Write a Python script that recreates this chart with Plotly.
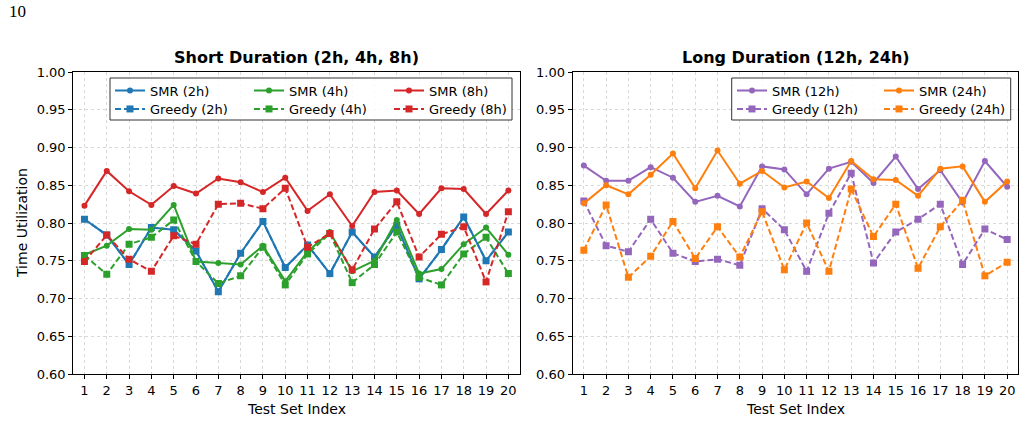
import plotly.graph_objects as go

test_idx = list(range(1, 21))

smr_2h = [0.805, 0.784, 0.745, 0.794, 0.791, 0.763, 0.709, 0.760, 0.802, 0.741,
          0.771, 0.733, 0.788, 0.755, 0.797, 0.726, 0.765, 0.808, 0.750, 0.788]
greedy_2h = [0.805, 0.784, 0.745, 0.794, 0.791, 0.763, 0.709, 0.760, 0.802, 0.741,
             0.771, 0.733, 0.788, 0.755, 0.797, 0.726, 0.765, 0.808, 0.750, 0.788]
smr_4h = [0.758, 0.770, 0.792, 0.791, 0.824, 0.749, 0.747, 0.745, 0.770, 0.723,
          0.762, 0.788, 0.736, 0.750, 0.804, 0.733, 0.739, 0.772, 0.794, 0.758]
greedy_4h = [0.757, 0.732, 0.772, 0.781, 0.804, 0.749, 0.720, 0.730, 0.768, 0.718,
             0.759, 0.786, 0.721, 0.745, 0.788, 0.728, 0.718, 0.759, 0.781, 0.733]
smr_8h = [0.823, 0.869, 0.842, 0.824, 0.849, 0.839, 0.859, 0.854, 0.841, 0.860,
          0.816, 0.838, 0.796, 0.841, 0.843, 0.812, 0.846, 0.845, 0.812, 0.843]
greedy_8h = [0.749, 0.784, 0.752, 0.736, 0.783, 0.772, 0.825, 0.826, 0.819, 0.846,
             0.768, 0.786, 0.738, 0.792, 0.828, 0.755, 0.785, 0.795, 0.722, 0.815]

smr_12h = [0.876, 0.856, 0.856, 0.874, 0.860, 0.828, 0.836, 0.822, 0.875, 0.871,
           0.838, 0.872, 0.881, 0.853, 0.888, 0.845, 0.870, 0.827, 0.882, 0.848]
greedy_12h = [0.829, 0.770, 0.762, 0.805, 0.760, 0.749, 0.752, 0.744, 0.819, 0.791,
              0.736, 0.813, 0.866, 0.747, 0.788, 0.805, 0.825, 0.745, 0.792, 0.778]
smr_24h = [0.826, 0.850, 0.838, 0.864, 0.892, 0.846, 0.896, 0.852, 0.869, 0.847,
           0.855, 0.833, 0.882, 0.858, 0.857, 0.836, 0.872, 0.875, 0.828, 0.855]
greedy_24h = [0.764, 0.824, 0.728, 0.756, 0.802, 0.753, 0.795, 0.755, 0.815, 0.738,
              0.800, 0.736, 0.845, 0.782, 0.825, 0.740, 0.795, 0.830, 0.730, 0.748]

y_ticks = [0.60, 0.65, 0.70, 0.75, 0.80, 0.85, 0.90, 0.95, 1.00]

BLUE, ORANGE, GREEN, RED, PURPLE = "#1f77b4", "#ff7f0e", "#2ca02c", "#d62728", "#9467bd"
FONT = "DejaVu Sans"

fig = go.Figure()

def add(y, name, color, dashed, xa, ya, legend):
    fig.add_trace(go.Scatter(
        x=test_idx, y=y, name=name, mode="lines+markers",
        line=dict(color=color, width=2, dash="6px,3px" if dashed else "solid"),
        marker=dict(symbol="square" if dashed else "circle", size=7 if dashed else 6, color=color),
        xaxis=xa, yaxis=ya, legend=legend,
    ))

add(smr_2h, "SMR (2h)", BLUE, False, "x", "y", "legend")
add(greedy_2h, "Greedy (2h)", BLUE, True, "x", "y", "legend2")
add(smr_4h, "SMR (4h)", GREEN, False, "x", "y", "legend3")
add(greedy_4h, "Greedy (4h)", GREEN, True, "x", "y", "legend4")
add(smr_8h, "SMR (8h)", RED, False, "x", "y", "legend5")
add(greedy_8h, "Greedy (8h)", RED, True, "x", "y", "legend6")

add(smr_12h, "SMR (12h)", PURPLE, False, "x2", "y2", "legend7")
add(greedy_12h, "Greedy (12h)", PURPLE, True, "x2", "y2", "legend8")
add(smr_24h, "SMR (24h)", ORANGE, False, "x2", "y2", "legend9")
add(greedy_24h, "Greedy (24h)", ORANGE, True, "x2", "y2", "legend10")

W, H = 1025, 446
def fx(px): return px / W
def fy(py): return 1 - py / H

axis_common = dict(
    showline=True, mirror=True, linecolor="black", linewidth=1.2,
    ticks="outside", ticklen=4, tickwidth=1, tickcolor="black",
    showgrid=True, gridcolor="#d9d9d9", griddash="dot", gridwidth=1,
    zeroline=False, tickfont=dict(family=FONT, size=13, color="black"),
)

xa = dict(axis_common, range=[0.5, 20.5], tickvals=test_idx, ticktext=[str(i) for i in test_idx])
ya = dict(axis_common, range=[0.60, 1.00], tickvals=y_ticks, ticktext=[f"{v:.2f}" for v in y_ticks])

ROW1, ROW2 = 75.5, 94.0

def leg(px_x, px_y):
    return dict(
        orientation="v", bgcolor="rgba(0,0,0,0)", borderwidth=0,
        font=dict(family=FONT, size=13, color="black"), yanchor="top", xanchor="left",
        x=fx(px_x), y=fy(px_y),
    )

def box(x0, x1):
    return dict(type="rect", xref="paper", yref="paper", x0=fx(x0), x1=fx(x1), y0=fy(120), y1=fy(78),
                line=dict(color="#333333", width=1), fillcolor="rgba(255,255,255,0.8)", layer="above")

fig.update_layout(
    width=W, height=H, margin=dict(l=0, r=0, t=0, b=0, autoexpand=False),
    paper_bgcolor="white", plot_bgcolor="white",
    font=dict(family=FONT, color="black"),
    xaxis=dict(xa, domain=[fx(73.3), fx(519.5)], anchor="y"),
    yaxis=dict(ya, domain=[fy(374), fy(72)], anchor="x"),
    xaxis2=dict(xa, domain=[fx(572.7), fx(1018.3)], anchor="y2"),
    yaxis2=dict(ya, domain=[fy(374), fy(72)], anchor="x2"),
    legend=leg(110, ROW1), legend2=leg(110, ROW2),
    legend3=leg(249, ROW1), legend4=leg(249, ROW2),
    legend5=leg(389, ROW1), legend6=leg(389, ROW2),
    legend7=leg(732, ROW1), legend8=leg(732, ROW2),
    legend9=leg(879, ROW1), legend10=leg(879, ROW2),
    showlegend=True,
    shapes=[box(110, 512), box(731.7, 1010.7)],
    annotations=[
        dict(text="<b>Short Duration (2h, 4h, 8h)</b>", x=fx(296.4), y=fy(57), xref="paper", yref="paper",
             showarrow=False, font=dict(family=FONT, size=16), xanchor="center", yanchor="middle"),
        dict(text="<b>Long Duration (12h, 24h)</b>", x=fx(795.5), y=fy(57), xref="paper", yref="paper",
             showarrow=False, font=dict(family=FONT, size=16), xanchor="center", yanchor="middle"),
        dict(text="Test Set Index", x=fx(296.4), y=fy(409), xref="paper", yref="paper",
             showarrow=False, font=dict(family=FONT, size=14), xanchor="center", yanchor="middle"),
        dict(text="Test Set Index", x=fx(795.5), y=fy(409), xref="paper", yref="paper",
             showarrow=False, font=dict(family=FONT, size=14), xanchor="center", yanchor="middle"),
        dict(text="Time Utilization", x=fx(22), y=fy(223), xref="paper", yref="paper", textangle=-90,
             showarrow=False, font=dict(family=FONT, size=14), xanchor="center", yanchor="middle"),
        dict(text="10", x=fx(7), y=fy(12), xref="paper", yref="paper",
             showarrow=False, font=dict(family="Liberation Serif", size=17), xanchor="left", yanchor="middle"),
    ],
)

fig.write_html("out.html")
